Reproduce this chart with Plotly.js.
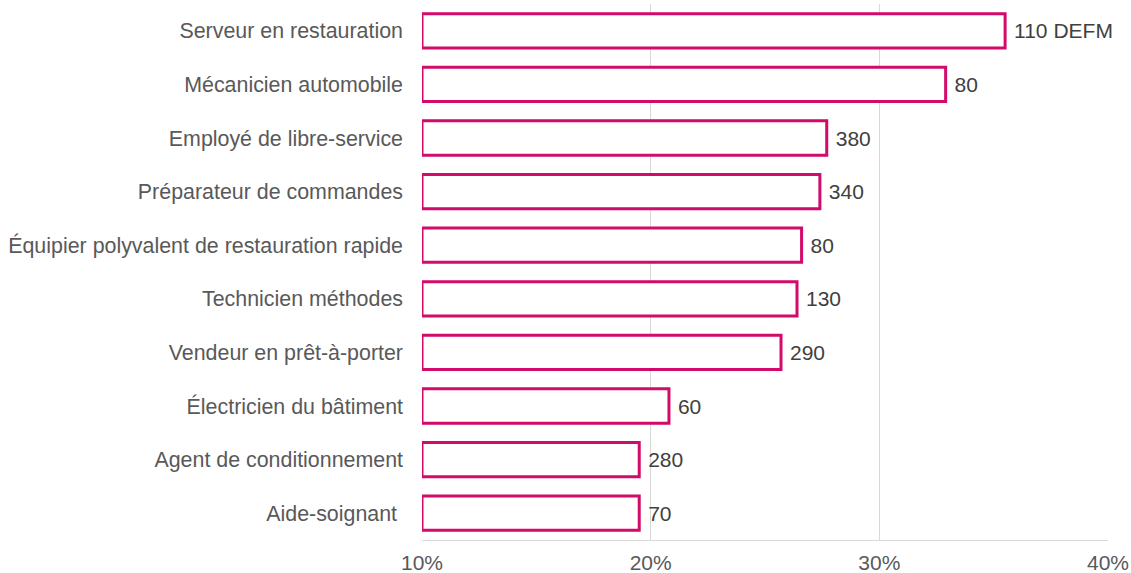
<!DOCTYPE html>
<html>
<head>
<meta charset="utf-8">
<script src="https://cdn.plot.ly/plotly-3.0.1.min.js"></script>
<style>html,body{margin:0;padding:0;background:#fff;}#chart{width:1131px;height:573px;}</style>
</head>
<body>
<div id="chart"></div>
<script>
// Data (top to bottom as shown)
const categories = [
  "Serveur en restauration",
  "Mécanicien automobile",
  "Employé de libre-service",
  "Préparateur de commandes",
  "Équipier polyvalent de restauration rapide",
  "Technicien méthodes",
  "Vendeur en prêt-à-porter",
  "Électricien du bâtiment",
  "Agent de conditionnement",
  "Aide-soignant\u00a0"
];
const sharePct = [35.5, 32.9, 27.7, 27.4, 26.6, 26.4, 25.7, 20.8, 19.5, 19.5];
const valueLabels = ["110 DEFM", "80", "380", "340", "80", "130", "290", "60", "280", "70"];
const xTickVals = [10, 20, 30, 40];
const axisMin = 10;

const trace = {
  type: "bar",
  orientation: "h",
  y: categories,
  x: sharePct.map(v => v - axisMin),
  base: axisMin,
  text: valueLabels,
  textposition: "outside",
  texttemplate: "\u2009\u200a%{text}",
  textfont: {family: "Liberation Sans, Arial, sans-serif", size: 21, color: "#404040"},
  cliponaxis: false,
  marker: {color: "#ffffff", line: {color: "#D20A6A", width: 3}},
  hoverinfo: "none"
};

const layout = {
  width: 1131,
  height: 573,
  margin: {l: 422, r: 23, t: 4, b: 33},
  paper_bgcolor: "#ffffff",
  plot_bgcolor: "#ffffff",
  showlegend: false,
  bargap: 0.36,
  font: {family: "Liberation Sans, Arial, sans-serif", size: 21, color: "#595959"},
  xaxis: {
    range: [10, 40],
    tickvals: xTickVals,
    ticktext: xTickVals.map(v => v + "%"),
    showgrid: true,
    gridcolor: "#d9d9d9",
    gridwidth: 1,
    zeroline: false,
    showline: true,
    linecolor: "#d9d9d9",
    linewidth: 1,
    ticks: "",
    ticklabelstandoff: 4,
    tickfont: {size: 21, color: "#595959"},
    automargin: false,
    fixedrange: true
  },
  yaxis: {
    autorange: "reversed",
    type: "category",
    showgrid: false,
    zeroline: false,
    showline: false,
    ticks: "",
    ticklabelstandoff: 18,
    tickfont: {size: 21.4, color: "#595959"},
    automargin: false,
    fixedrange: true
  }
};

Plotly.newPlot("chart", [trace], layout, {displayModeBar: false, staticPlot: true});
</script>
</body>
</html>
